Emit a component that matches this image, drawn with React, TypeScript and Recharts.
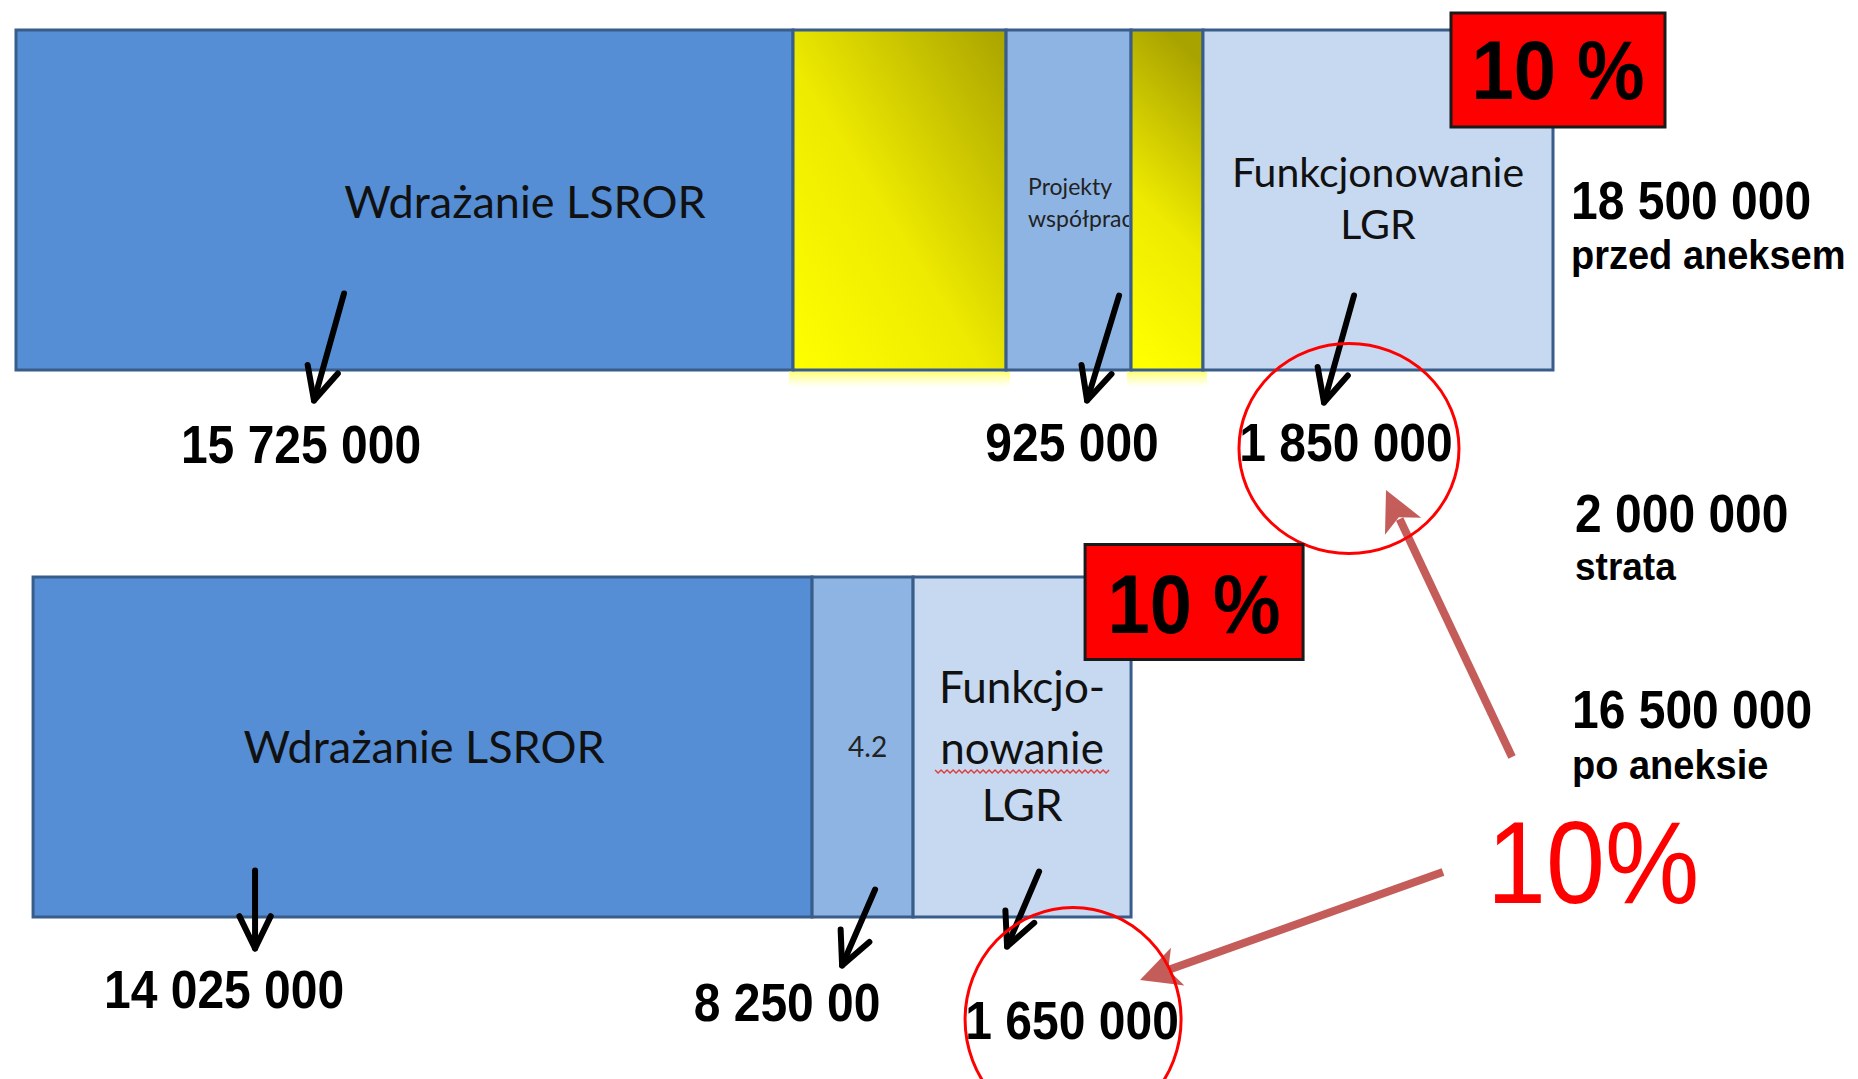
import React from 'react';
import { BarChart, Bar, XAxis, YAxis, LabelList, ReferenceDot } from 'recharts';

// ---------- data ----------
const rows = ['przed aneksem', 'po aneksie'];
const totalsPLN = [18500000, 16500000];
// drawn segment lengths (share of the upper bar's drawn length, %)
const offsetShare = [0, 1.11];
const wdrShare = [50.55, 50.68];
const yellowAShare = [13.86, 0];
const projShare = [8.13, 6.57];
const yellowBShare = [4.68, 0];
const funkShare = [22.77, 14.18];

const wdrNames = ['Wdrażanie LSROR', 'Wdrażanie LSROR'];
const projNames = [['Projekty', 'współpracy'], ['4.2']];
const funkNames = [['Funkcjonowanie', 'LGR'], ['Funkcjo-', 'nowanie', 'LGR']];
const wdrAmounts = ['15 725 000', '14 025 000'];
const projAmounts = ['925 000', '8 250 00'];
const funkAmounts = ['1 850 000', '1 650 000'];
const funkPercent = ['10 %', '10 %'];
const totalNotes = ['przed aneksem', 'po aneksie'];
const lossNote = 'strata';
const bigPercent = '10%';

const data = rows.map((row, i) => ({
  row,
  offset: offsetShare[i],
  wdr: wdrShare[i],
  ya: yellowAShare[i],
  proj: projShare[i],
  yb: yellowBShare[i],
  funk: funkShare[i],
}));
const topTotal = offsetShare[0] + wdrShare[0] + yellowAShare[0] + projShare[0] + yellowBShare[0] + funkShare[0];

const fmt = (n: number) => String(n).replace(/\B(?=(\d{3})+(?!\d))/g, ' ');

// ---------- styles ----------
const BOLD = "'Liberation Sans', Arial, sans-serif";
const CAL = "Lato, 'Open Sans', sans-serif";
const BORDER = '#385D8A';
const C_WDR = '#558ED5';
const C_PROJ = '#8EB4E3';
const C_FUNK = '#C6D9F1';
const BROWN = '#C0504D';

// annotation layout (pixel offsets relative to each segment)
const wdrLayout = [
  { tdx: 120.5, tdy: 17.5, a: [328, -76.5, 298, 30.5], ax: 285, ay: 92.5 },
  { tdx: 1.5, tdy: 16, a: [222, -46.5, 222, 31.5], ax: 191, ay: 90.5 },
];
const projLayout = [
  { a: [113, -74.5, 81, 30.5], ax: 66, ay: 90.5 },
  { a: [63, -27.5, 30, 48.5], ax: -25, ay: 103.5 },
];
const funkLayout = [
  { size: 41, lines: [-13.5, 38.5], a: [151, -74.5, 121, 32.5], ax: 143, ay: 90.5, cdx: 3, cdy: -12, rx: 110, ry: 105, box: [248, -17, 214, 114], bty: 86 },
  { size: 44, lines: [-44.5, 16.5, 73.5], a: [126, -45.5, 94, 29.5], ax: 159, ay: 121.5, cdx: 1, cdy: -19, rx: 108, ry: 112, box: [172, -32.5, 218, 115], bty: 88 },
];

function BoldText({ x, y, size, children, anchor = 'start', fill = '#000', weight = 'bold', sy = 1.1 }: any) {
  return (
    <text
      transform={`translate(${x},${y}) scale(1,${sy})`}
      fontFamily={BOLD}
      fontWeight={weight}
      fontSize={size}
      textAnchor={anchor}
      fill={fill}
    >
      {children}
    </text>
  );
}

function BlackArrow({ x1, y1, x2, y2 }: any) {
  const ang = Math.atan2(y2 - y1, x2 - x1);
  const L = 36;
  const a = 0.45;
  const p1 = [x2 - L * Math.cos(ang - a), y2 - L * Math.sin(ang - a)];
  const p2 = [x2 - L * Math.cos(ang + a), y2 - L * Math.sin(ang + a)];
  return (
    <g stroke="#000" strokeWidth={6} fill="none" strokeLinecap="round" strokeLinejoin="round">
      <line x1={x1} y1={y1} x2={x2} y2={y2} />
      <polyline points={`${p1[0]},${p1[1]} ${x2},${y2} ${p2[0]},${p2[1]}`} />
    </g>
  );
}

function BrownArrow({ x1, y1, x2, y2 }: any) {
  const ang = Math.atan2(y2 - y1, x2 - x1);
  const L = 40;
  const W = 20;
  const bx = x2 - L * Math.cos(ang);
  const by = y2 - L * Math.sin(ang);
  const nx = -Math.sin(ang);
  const ny = Math.cos(ang);
  return (
    <g opacity={0.92}>
      <line x1={x1} y1={y1} x2={bx + 8 * Math.cos(ang)} y2={by + 8 * Math.sin(ang)} stroke={BROWN} strokeWidth={8} />
      <polygon
        points={`${x2},${y2} ${bx + W * nx},${by + W * ny} ${bx + 10 * Math.cos(ang)},${by + 10 * Math.sin(ang)} ${bx - W * nx},${by - W * ny}`}
        fill={BROWN}
      />
    </g>
  );
}

function Squiggle({ x1, x2, y }: any) {
  const pts: string[] = [];
  let k = 0;
  for (let x = x1; x <= x2; x += 3, k++) pts.push(`${x},${y + (k % 2 ? 1.5 : -1.5)}`);
  return <polyline points={pts.join(' ')} fill="none" stroke="#E23B3B" strokeWidth={1.4} />;
}

function YellowShape(props: any) {
  const { x, y, width, height, gid, vertical } = props;
  if (!width || width <= 0) return null;
  return (
    <g>
      <defs>
        <linearGradient id={gid} x1={vertical ? 0.3 : 0} y1={1} x2={vertical ? 0.5 : 1} y2={0}>
          <stop offset="0" stopColor="#FFFF00" />
          <stop offset="0.45" stopColor="#EEEA00" />
          <stop offset="1" stopColor="#A9A300" />
        </linearGradient>
        <linearGradient id={gid + '-glow'} x1={0} y1={0} x2={0} y2={1}>
          <stop offset="0" stopColor="#FFFF40" stopOpacity={0.75} />
          <stop offset="1" stopColor="#FFFF80" stopOpacity={0} />
        </linearGradient>
      </defs>
      <rect x={x - 4} y={y + height + 1.5} width={width + 8} height={16} fill={`url(#${gid}-glow)`} />
      <rect x={x} y={y} width={width} height={height} fill={`url(#${gid})`} stroke={BORDER} strokeWidth={3} />
    </g>
  );
}

const wdrContent = (p: any) => {
  const { x, y, width, height, index } = p;
  if (!width || width <= 0) return null;
  const L = wdrLayout[index];
  const cx = x + width / 2;
  const cy = y + height / 2;
  const by = y + height;
  return (
    <g>
      <text x={cx + L.tdx} y={cy + L.tdy} fontFamily={CAL} fontSize={45} textAnchor="middle" fill="#111">
        {wdrNames[index]}
      </text>
      <BlackArrow x1={x + L.a[0]} y1={by + L.a[1]} x2={x + L.a[2]} y2={by + L.a[3]} />
      <BoldText x={x + L.ax} y={by + L.ay} size={48} anchor="middle">{wdrAmounts[index]}</BoldText>
    </g>
  );
};

const projContent = (p: any) => {
  const { x, y, width, height, index } = p;
  if (!width || width <= 0) return null;
  const L = projLayout[index];
  const cx = x + width / 2;
  const cy = y + height / 2;
  const by = y + height;
  const names = projNames[index];
  const cid = `proj-clip-${index}`;
  return (
    <g>
      <defs>
        <clipPath id={cid}>
          <rect x={x} y={y} width={width - 2} height={height} />
        </clipPath>
      </defs>
      {names.length > 1 ? (
        <g clipPath={`url(#${cid})`}>
          <text x={x + 22} y={cy - 5.5} fontFamily={CAL} fontSize={23} fill="#222">{names[0]}</text>
          <text x={x + 22} y={cy + 26.5} fontFamily={CAL} fontSize={23} fill="#222">{names[1]}</text>
        </g>
      ) : (
        <text x={cx + 5} y={cy + 9.5} fontFamily={CAL} fontSize={28} textAnchor="middle" fill="#222">{names[0]}</text>
      )}
      <BlackArrow x1={x + L.a[0]} y1={by + L.a[1]} x2={x + L.a[2]} y2={by + L.a[3]} />
      <BoldText x={x + L.ax} y={by + L.ay} size={48} anchor="middle">{projAmounts[index]}</BoldText>
    </g>
  );
};

function nSquiggle(names: string[], cx: number, cy: number, L: any) {
  const i = names.indexOf('nowanie');
  if (i < 0) return null;
  return <Squiggle x1={cx - 87} x2={cx + 87} y={cy + L.lines[i] + 8} />;
}

const funkContent = (p: any) => {
  const { x, y, width, height, index } = p;
  if (!width || width <= 0) return null;
  const L = funkLayout[index];
  const cx = x + width / 2;
  const cy = y + height / 2;
  const by = y + height;
  const names = funkNames[index];
  const lx = x + L.ax;
  const ly = by + L.ay;
  return (
    <g>
      {names.map((n, i) => (
        <text key={i} x={cx} y={cy + L.lines[i]} fontFamily={CAL} fontSize={L.size} textAnchor="middle" fill="#111">
          {n}
        </text>
      ))}
      {nSquiggle(names, cx, cy, L)}
      <BlackArrow x1={x + L.a[0]} y1={by + L.a[1]} x2={x + L.a[2]} y2={by + L.a[3]} />
      <BoldText x={lx} y={ly} size={48} anchor="middle">{funkAmounts[index]}</BoldText>
      <ellipse cx={lx + L.cdx} cy={ly + L.cdy} rx={L.rx} ry={L.ry} fill="none" stroke="#FF0000" strokeWidth={3} />
      <rect x={x + L.box[0]} y={y + L.box[1]} width={L.box[2]} height={L.box[3]} fill="#FF0000" stroke="#1a1a1a" strokeWidth={3} />
      <BoldText x={x + L.box[0] + L.box[2] / 2} y={y + L.box[1] + L.bty} size={76} anchor="middle">
        {funkPercent[index]}
      </BoldText>
    </g>
  );
};

const TopNotes = (p: any) => {
  const { cx, cy } = p;
  return (
    <g>
      <BoldText x={cx + 18} y={cy + 19.5} size={48}>{fmt(totalsPLN[0])}</BoldText>
      <BoldText x={cx + 18} y={cy + 69} size={38} sy={1.05}>{totalNotes[0]}</BoldText>
      <BoldText x={cx + 22} y={cy + 332.5} size={48}>{fmt(totalsPLN[0] - totalsPLN[1])}</BoldText>
      <BoldText x={cx + 22} y={cy + 380.5} size={37} sy={1.05}>{lossNote}</BoldText>
    </g>
  );
};

const BottomNotes = (p: any) => {
  const { cx, cy } = p;
  return (
    <g>
      <BoldText x={cx + 19} y={cy - 18.5} size={48}>{fmt(totalsPLN[1])}</BoldText>
      <BoldText x={cx + 19} y={cy + 32} size={38} sy={1.05}>{totalNotes[1]}</BoldText>
      <BrownArrow x1={cx - 41} y1={cy + 10.5} x2={cx - 167} y2={cy - 256.5} />
      <BrownArrow x1={cx - 110} y1={cy + 125.5} x2={cx - 413} y2={cy + 233.5} />
      <BoldText x={cx - 66} y={cy + 156} size={106} weight="normal" fill="#FF0000">{bigPercent}</BoldText>
    </g>
  );
};

export default function App() {
  return (
    <div style={{ position: 'absolute', left: 0, top: 0, width: 1858, height: 1079, overflow: 'hidden', background: '#fff' }}>
      <div style={{ position: 'absolute', left: 0, top: -74 }}>
        <BarChart
          width={1858}
          height={1180}
          data={data}
          layout="vertical"
          margin={{ top: 0, right: 305, bottom: 86, left: 16 }}
          barSize={340}
        >
          <XAxis type="number" domain={[0, topTotal]} hide />
          <YAxis type="category" dataKey="row" hide />
          <Bar dataKey="offset" stackId="s" fill="transparent" isAnimationActive={false} />
          <Bar dataKey="wdr" stackId="s" fill={C_WDR} stroke={BORDER} strokeWidth={3} isAnimationActive={false}>
            <LabelList dataKey="wdr" content={wdrContent} />
          </Bar>
          <Bar dataKey="ya" stackId="s" isAnimationActive={false} shape={(p: any) => <YellowShape {...p} gid="ygA" />} />
          <Bar dataKey="proj" stackId="s" fill={C_PROJ} stroke={BORDER} strokeWidth={3} isAnimationActive={false}>
            <LabelList dataKey="proj" content={projContent} />
          </Bar>
          <Bar dataKey="yb" stackId="s" isAnimationActive={false} shape={(p: any) => <YellowShape {...p} gid="ygB" vertical />} />
          <Bar dataKey="funk" stackId="s" fill={C_FUNK} stroke={BORDER} strokeWidth={3} isAnimationActive={false}>
            <LabelList dataKey="funk" content={funkContent} />
          </Bar>
          <ReferenceDot x={topTotal} y={rows[0]} ifOverflow="visible" shape={TopNotes} />
          <ReferenceDot x={topTotal} y={rows[1]} ifOverflow="visible" shape={BottomNotes} />
        </BarChart>
      </div>
    </div>
  );
}
